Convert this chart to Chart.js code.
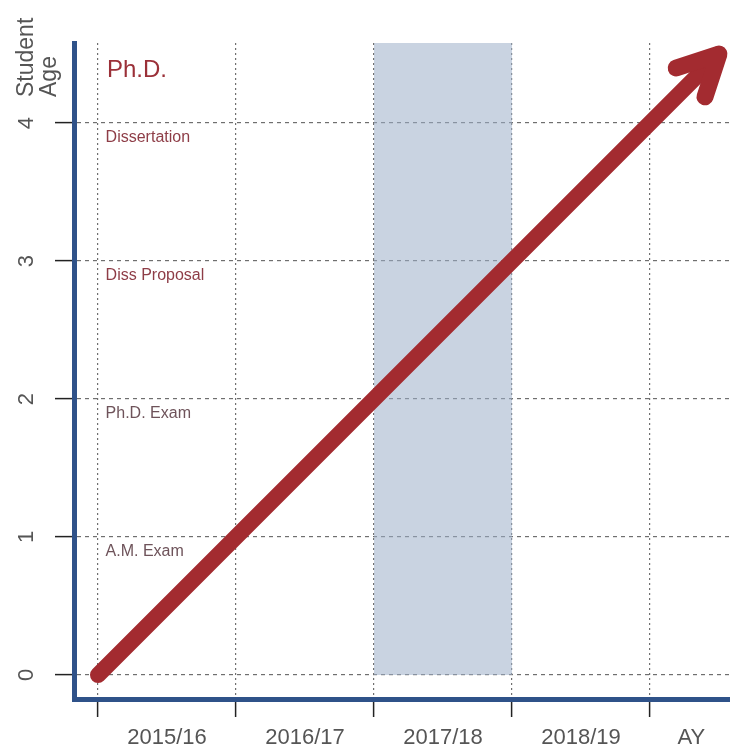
<!DOCTYPE html>
<html>
<head>
<meta charset="utf-8">
<script src="https://cdn.jsdelivr.net/npm/chart.js@4"></script>
<style>
  body { margin: 0; background: #fff; }
  #wrap { width: 730px; height: 750px; }
</style>
</head>
<body>
<div id="wrap"><canvas id="ageChart"></canvas></div>
<script>
// axis labels
const years = ['2015/16', '2016/17', '2017/18', '2018/19', 'AY'];
const yearAt = [0.5, 1.5, 2.5, 3.5, 4.3];
const ageTicks = [0, 1, 2, 3, 4];
const stages = ['A.M. Exam', 'Ph.D. Exam', 'Diss Proposal', 'Dissertation'];
const stageColors = ['#6e535a', '#6e535a', '#8e3d47', '#8e3d47'];

// arrow (student age) and the shaded year
const arrowX = [0, 4.5];
const arrowY = [0, 4.5];
const bandX = [2, 3];

const axisMin = -0.174, axisMax = 4.58;
const axisBlue = '#2f5289';
const gridGray = '#6f6f6f';
const red = '#a32b30';
const font = "'Liberation Sans', Arial, sans-serif";

// arrow head + texts
const notes = {
  id: 'notes',
  afterDatasetsDraw(chart) {
    const ctx = chart.ctx;
    const xs = chart.scales.x, ys = chart.scales.y;
    const pts = chart.getDatasetMeta(0).data;
    const a = pts[0], b = pts[pts.length - 1];
    const back = Math.atan2(a.y - b.y, a.x - b.x);
    ctx.save();
    ctx.strokeStyle = red;
    ctx.lineWidth = 17;
    ctx.lineCap = 'round';
    ctx.lineJoin = 'round';
    ctx.beginPath();
    ctx.moveTo(b.x + 45 * Math.cos(back - 0.47), b.y + 45 * Math.sin(back - 0.47));
    ctx.lineTo(b.x, b.y);
    ctx.lineTo(b.x + 45 * Math.cos(back + 0.47), b.y + 45 * Math.sin(back + 0.47));
    ctx.stroke();

    ctx.textAlign = 'left';
    ctx.textBaseline = 'alphabetic';
    ctx.fillStyle = '#9b3038';
    ctx.font = '24px ' + font;
    ctx.fillText('Ph.D.', xs.getPixelForValue(0.065), ys.getPixelForValue(4.33));

    ctx.font = '16px ' + font;
    stages.forEach((s, i) => {
      ctx.fillStyle = stageColors[i];
      ctx.fillText(s, xs.getPixelForValue(0.055), ys.getPixelForValue(i + 1) + 19);
    });

    // y axis title
    ctx.fillStyle = '#555';
    ctx.font = '23px ' + font;
    ctx.translate(0, 97);
    ctx.rotate(-Math.PI / 2);
    ctx.textBaseline = 'middle';
    ctx.fillText('Student', 0, 27);
    ctx.fillText('Age', 0, 50);
    ctx.restore();
  }
};

const ctx = document.getElementById('ageChart').getContext('2d');
const ageChart = new Chart(ctx, {
  type: 'line',
  data: {
    datasets: [{
      data: arrowX.map((x, i) => ({ x: x, y: arrowY[i] })),
      borderColor: red,
      borderWidth: 16,
      borderCapStyle: 'round',
      pointRadius: 0,
      fill: false
    }, {
      data: bandX.map(x => ({ x: x, y: axisMax })),
      borderWidth: 0,
      borderColor: 'rgba(0,0,0,0)',
      backgroundColor: 'rgba(157,175,200,0.55)',
      pointRadius: 0,
      fill: 'origin'
    }]
  },
  options: {
    responsive: true,
    maintainAspectRatio: false,
    animation: false,
    layout: { padding: { top: 43, left: 0, right: 0, bottom: 0 } },
    plugins: {
      legend: { display: false },
      tooltip: { enabled: false }
    },
    scales: {
      x: {
        type: 'linear',
        min: axisMin,
        max: axisMax,
        afterBuildTicks: s => {
          const t = [0, 1, 2, 3, 4].concat(yearAt).sort((p, q) => p - q);
          s.ticks = t.map(v => ({ value: v }));
        },
        afterFit: s => { s.height = 51; },
        grid: {
          color: c => Number.isInteger(c.tick.value) ? gridGray : 'rgba(0,0,0,0)',
          tickColor: c => Number.isInteger(c.tick.value) ? '#222' : 'rgba(0,0,0,0)',
          lineWidth: 1.2,
          tickLength: 18,
          tickWidth: 1.5
        },
        border: { color: axisBlue, width: 5, dash: [2, 3] },
        ticks: {
          autoSkip: false,
          minRotation: 0,
          maxRotation: 0,
          padding: 8,
          color: '#555',
          font: { family: font, size: 22 },
          callback: v => {
            const i = yearAt.indexOf(v);
            return i >= 0 ? years[i] : '';
          }
        }
      },
      y: {
        type: 'linear',
        min: axisMin,
        max: axisMax,
        afterBuildTicks: s => { s.ticks = ageTicks.map(v => ({ value: v })); },
        afterFit: s => { s.width = 74; },
        grid: {
          color: gridGray,
          tickColor: '#222',
          lineWidth: 1.2,
          tickLength: 19,
          tickWidth: 1.5
        },
        border: { color: axisBlue, width: 5, dash: [4, 4] },
        ticks: {
          minRotation: 90,
          maxRotation: 90,
          crossAlign: 'center',
          padding: 22,
          color: '#555',
          font: { family: font, size: 22 }
        }
      }
    }
  },
  plugins: [notes]
});
</script>
</body>
</html>
